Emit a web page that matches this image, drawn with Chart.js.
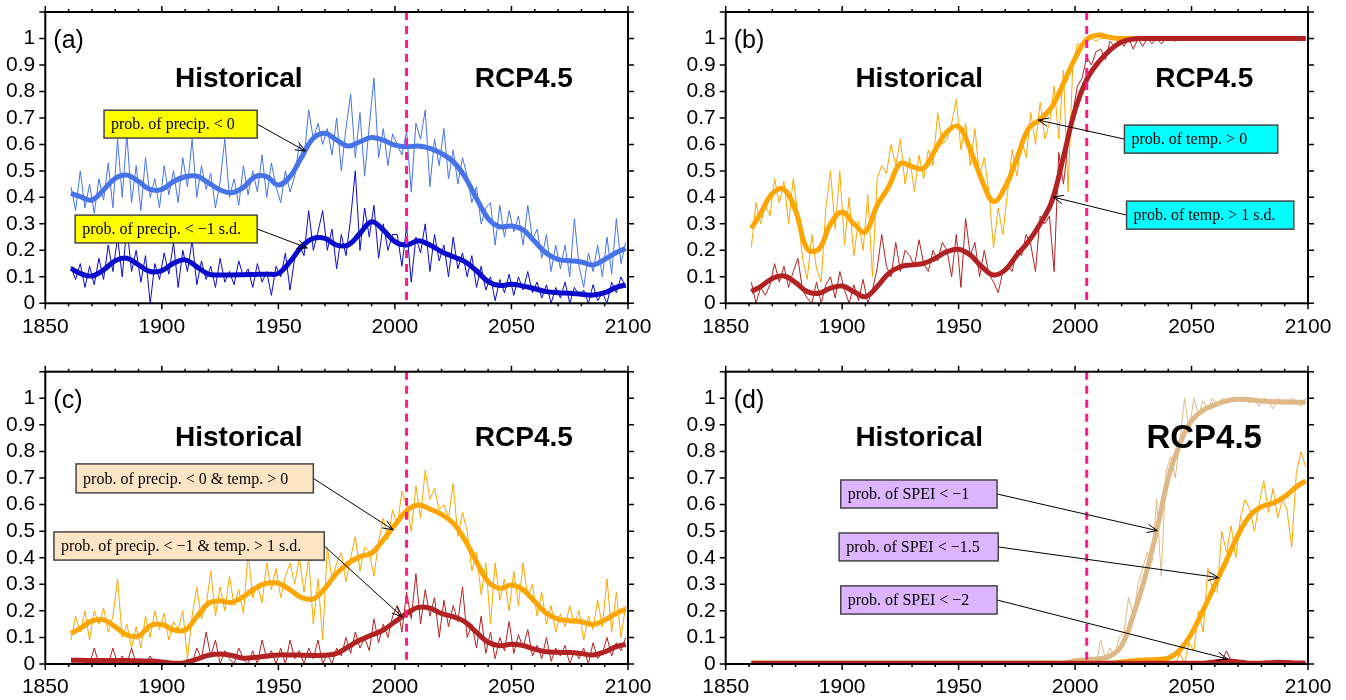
<!DOCTYPE html>
<html>
<head>
<meta charset="utf-8">
<script src="https://cdn.jsdelivr.net/npm/chart.js@4.4.1/dist/chart.umd.min.js"></script>
<style>
  body { margin: 0; background: #fff; }
  canvas { position: absolute; }
</style>
</head>
<body>
<canvas id="pa" width="673" height="350" style="left:0;top:0"></canvas>
<canvas id="pb" width="673" height="350" style="left:673px;top:0"></canvas>
<canvas id="pc" width="673" height="350" style="left:0;top:350px"></canvas>
<canvas id="pd" width="673" height="350" style="left:673px;top:350px"></canvas>
<script>
// years: annual-ish raw series (every 2nd year) and smoothed curves (every 5 years)
const yearsRaw = [];
for (let y = 1861; y <= 2099; y += 2) yearsRaw.push(y);
const yearsSmooth = [1861];
for (let y = 1865; y <= 2095; y += 5) yearsSmooth.push(y);
yearsSmooth.push(2099);

// (a) precipitation
const aRawPrecip0 = [
  0.44, 0.35, 0.50, 0.36, 0.45, 0.34, 0.47, 0.39, 0.53, 0.36,
  0.62, 0.40, 0.64, 0.38, 0.52, 0.35, 0.55, 0.40, 0.47, 0.36,
  0.52, 0.41, 0.50, 0.38, 0.55, 0.44, 0.62, 0.40, 0.52, 0.43,
  0.49, 0.36, 0.46, 0.62, 0.40, 0.47, 0.37, 0.52, 0.41, 0.50,
  0.42, 0.56, 0.40, 0.53, 0.44, 0.38, 0.50, 0.42, 0.48, 0.60,
  0.55, 0.73, 0.62, 0.68, 0.60, 0.66, 0.56, 0.70, 0.50, 0.66,
  0.79, 0.55, 0.72, 0.48, 0.67, 0.85, 0.55, 0.66, 0.52, 0.64,
  0.60, 0.56, 0.65, 0.42, 0.68, 0.62, 0.73, 0.44, 0.62, 0.52,
  0.66, 0.47, 0.58, 0.45, 0.55, 0.48, 0.38, 0.44, 0.30, 0.36,
  0.38, 0.22, 0.37, 0.25, 0.35, 0.27, 0.33, 0.22, 0.37, 0.24,
  0.28, 0.17, 0.26, 0.12, 0.22, 0.13, 0.22, 0.10, 0.32, 0.14,
  0.06, 0.19, 0.12, 0.22, 0.10, 0.25, 0.11, 0.32, 0.15, 0.23
];
const aRawPrecipSd = [
  0.14, 0.09, 0.15, 0.06, 0.14, 0.07, 0.17, 0.09, 0.22, 0.12,
  0.25, 0.10, 0.29, 0.12, 0.20, 0.08, 0.18, 0.00, 0.15, 0.09,
  0.19, 0.11, 0.23, 0.06, 0.20, 0.12, 0.24, 0.07, 0.16, 0.09,
  0.14, 0.06, 0.17, 0.08, 0.12, 0.07, 0.16, 0.10, 0.13, 0.06,
  0.15, 0.08, 0.12, 0.03, 0.14, 0.10, 0.19, 0.05, 0.17, 0.22,
  0.18, 0.35, 0.20, 0.27, 0.35, 0.20, 0.28, 0.13, 0.26, 0.18,
  0.32, 0.50, 0.20, 0.36, 0.25, 0.37, 0.17, 0.30, 0.20, 0.26,
  0.26, 0.14, 0.29, 0.08, 0.25, 0.19, 0.30, 0.12, 0.26, 0.16,
  0.22, 0.10, 0.25, 0.13, 0.19, 0.10, 0.18, 0.06, 0.14, 0.05,
  0.10, 0.01, 0.09, 0.04, 0.11, 0.03, 0.10, 0.05, 0.12, 0.04,
  0.08, 0.02, 0.07, 0.00, 0.06, 0.02, 0.08, 0.00, 0.06, 0.03,
  0.05, 0.00, 0.07, 0.01, 0.04, 0.00, 0.08, 0.04, 0.10, 0.06
];
const aSmoothPrecip0 = [
  0.415, 0.403, 0.39, 0.428, 0.472, 0.484, 0.46, 0.43, 0.43, 0.46,
  0.478, 0.48, 0.455, 0.428, 0.418, 0.438, 0.478, 0.478, 0.447, 0.478,
  0.553, 0.623, 0.642, 0.616, 0.594, 0.61, 0.626, 0.616, 0.597, 0.591,
  0.594, 0.585, 0.566, 0.535, 0.478, 0.396, 0.32, 0.289, 0.292, 0.277,
  0.233, 0.189, 0.166, 0.161, 0.156, 0.145, 0.166, 0.192, 0.207
];
const aSmoothPrecipSd = [
  0.132, 0.113, 0.103, 0.126, 0.161, 0.17, 0.145, 0.12, 0.123, 0.151,
  0.164, 0.138, 0.11, 0.107, 0.107, 0.108, 0.109, 0.11, 0.113, 0.157,
  0.214, 0.245, 0.245, 0.22, 0.22, 0.264, 0.308, 0.277, 0.233, 0.22,
  0.236, 0.22, 0.195, 0.176, 0.157, 0.123, 0.082, 0.067, 0.072, 0.065,
  0.055, 0.044, 0.04, 0.038, 0.034, 0.031, 0.04, 0.06, 0.069
];

// (b) temperature
const bRawTemp0 = [
  0.21, 0.38, 0.30, 0.37, 0.33, 0.47, 0.38, 0.46, 0.30, 0.47,
  0.34, 0.17, 0.09, 0.26, 0.13, 0.08, 0.36, 0.50, 0.28, 0.50,
  0.22, 0.40, 0.18, 0.31, 0.20, 0.41, 0.10, 0.47, 0.52, 0.49,
  0.60, 0.52, 0.62, 0.45, 0.55, 0.42, 0.56, 0.47, 0.58, 0.52,
  0.72, 0.60, 0.62, 0.68, 0.77, 0.58, 0.68, 0.52, 0.66, 0.48,
  0.55, 0.42, 0.21, 0.36, 0.26, 0.42, 0.58, 0.48, 0.62, 0.55,
  0.72, 0.60, 0.76, 0.62, 0.68, 0.82, 0.62, 0.88, 0.42, 0.90,
  0.98, 0.97, 1.00, 1.00, 0.99, 1.00, 1.00, 1.00, 1.00, 1.00,
  1.00, 1.00, 1.00, 1.00, 1.00, 1.00, 1.00, 1.00, 1.00, 1.00,
  1.00, 1.00, 1.00, 1.00, 1.00, 1.00, 1.00, 1.00, 1.00, 1.00,
  1.00, 1.00, 1.00, 1.00, 1.00, 1.00, 1.00, 1.00, 1.00, 1.00,
  1.00, 1.00, 1.00, 1.00, 1.00, 1.00, 1.00, 1.00, 1.00, 1.00
];
const bRawTempSd = [
  0.08, 0.00, 0.06, 0.03, 0.07, 0.15, 0.08, 0.14, 0.06, 0.12,
  0.17, 0.05, 0.02, 0.00, 0.08, 0.00, 0.07, 0.10, 0.02, 0.12,
  0.05, 0.00, 0.07, 0.01, 0.09, 0.00, 0.05, 0.13, 0.26, 0.14,
  0.10, 0.23, 0.12, 0.20, 0.18, 0.14, 0.24, 0.15, 0.12, 0.20,
  0.16, 0.23, 0.20, 0.10, 0.26, 0.06, 0.32, 0.18, 0.23, 0.10,
  0.20, 0.11, 0.08, 0.04, 0.12, 0.14, 0.12, 0.20, 0.18, 0.26,
  0.22, 0.12, 0.33, 0.30, 0.33, 0.12, 0.57, 0.45, 0.60, 0.72,
  0.82, 0.85, 0.93, 0.90, 0.95, 0.96, 0.92, 0.99, 0.97, 1.00,
  0.97, 1.00, 0.96, 1.00, 0.97, 1.00, 0.98, 1.00, 0.98, 1.00,
  1.00, 0.99, 1.00, 1.00, 1.00, 1.00, 1.00, 1.00, 1.00, 1.00,
  1.00, 1.00, 1.00, 1.00, 1.00, 1.00, 1.00, 1.00, 1.00, 1.00,
  1.00, 1.00, 1.00, 1.00, 1.00, 1.00, 1.00, 1.00, 1.00, 1.00
];
const bSmoothTemp0 = [
  0.283, 0.34, 0.415, 0.43, 0.35, 0.205, 0.205, 0.3, 0.345, 0.3,
  0.27, 0.37, 0.44, 0.528, 0.516, 0.51, 0.58, 0.648, 0.667, 0.58,
  0.465, 0.384, 0.44, 0.547, 0.66, 0.694, 0.742, 0.83, 0.925, 0.996,
  1.013, 1.004, 1.0, 1.0, 1.0, 1.0, 1.0, 1.0, 1.0, 1.0,
  1.0, 1.0, 1.0, 1.0, 1.0, 1.0, 1.0, 1.0, 1.0
];
const bSmoothTempSd = [
  0.044, 0.063, 0.094, 0.103, 0.078, 0.044, 0.038, 0.057, 0.065, 0.044,
  0.025, 0.063, 0.113, 0.138, 0.145, 0.151, 0.17, 0.195, 0.204, 0.182,
  0.138, 0.107, 0.126, 0.182, 0.233, 0.30, 0.385, 0.553, 0.73, 0.845,
  0.91, 0.956, 0.987, 0.998, 1.0, 1.0, 1.0, 1.0, 1.0, 1.0,
  1.0, 1.0, 1.0, 1.0, 1.0, 1.0, 1.0, 1.0, 1.0
];

// (c) compound precip & temp
const cRawBoth0 = [
  0.09, 0.18, 0.12, 0.20, 0.09, 0.20, 0.15, 0.21, 0.12, 0.18,
  0.32, 0.10, 0.15, 0.06, 0.14, 0.06, 0.18, 0.10, 0.20, 0.13,
  0.19, 0.09, 0.16, 0.13, 0.20, 0.02, 0.18, 0.29, 0.17, 0.22,
  0.35, 0.18, 0.29, 0.20, 0.33, 0.22, 0.28, 0.19, 0.42, 0.25,
  0.30, 0.23, 0.38, 0.28, 0.36, 0.25, 0.33, 0.38, 0.30, 0.40,
  0.27, 0.40, 0.15, 0.32, 0.09, 0.44, 0.32, 0.38, 0.42, 0.31,
  0.40, 0.48, 0.35, 0.44, 0.42, 0.33, 0.46, 0.55, 0.47, 0.58,
  0.52, 0.65, 0.60, 0.50, 0.67, 0.55, 0.73, 0.62, 0.66, 0.58,
  0.60, 0.55, 0.68, 0.48, 0.57, 0.50, 0.35, 0.42, 0.26, 0.38,
  0.15, 0.38, 0.24, 0.32, 0.20, 0.35, 0.22, 0.38, 0.25, 0.30,
  0.18, 0.27, 0.15, 0.22, 0.12, 0.19, 0.14, 0.22, 0.15, 0.20,
  0.09, 0.18, 0.13, 0.24, 0.14, 0.32, 0.12, 0.27, 0.10, 0.22
];
const cRawBothSd = [
  0.00, 0.02, 0.00, 0.01, 0.00, 0.06, 0.00, 0.02, 0.00, 0.06,
  0.00, 0.03, 0.00, 0.06, 0.00, 0.02, 0.00, 0.03, 0.00, 0.01,
  0.00, 0.00, 0.00, 0.00, 0.00, 0.02, 0.00, 0.06, 0.02, 0.12,
  0.03, 0.09, 0.00, 0.05, 0.02, 0.00, 0.06, 0.02, 0.00, 0.05,
  0.00, 0.09, 0.02, 0.05, 0.00, 0.06, 0.00, 0.09, 0.02, 0.05,
  0.00, 0.06, 0.02, 0.09, 0.00, 0.04, 0.00, 0.06, 0.03, 0.10,
  0.04, 0.12, 0.06, 0.10, 0.05, 0.17, 0.08, 0.15, 0.10, 0.18,
  0.22, 0.12, 0.27, 0.17, 0.34, 0.15, 0.28, 0.18, 0.25, 0.10,
  0.24, 0.14, 0.22, 0.16, 0.29, 0.10, 0.15, 0.06, 0.18, 0.04,
  0.12, 0.02, 0.10, 0.05, 0.16, 0.04, 0.11, 0.06, 0.13, 0.03,
  0.07, 0.02, 0.10, 0.01, 0.06, 0.03, 0.07, 0.00, 0.05, 0.02,
  0.06, 0.00, 0.08, 0.02, 0.04, 0.10, 0.03, 0.08, 0.05, 0.10
];
const cSmoothBoth0 = [
  0.115, 0.134, 0.162, 0.166, 0.14, 0.109, 0.105, 0.144, 0.149, 0.128,
  0.128, 0.178, 0.228, 0.237, 0.232, 0.253, 0.285, 0.304, 0.304, 0.279,
  0.25, 0.245, 0.285, 0.341, 0.379, 0.404, 0.417, 0.467, 0.523, 0.576,
  0.598, 0.583, 0.563, 0.53, 0.467, 0.385, 0.31, 0.285, 0.297, 0.279,
  0.235, 0.191, 0.169, 0.163, 0.159, 0.149, 0.166, 0.191, 0.207
];
const cSmoothBothSd = [
  0.014, 0.014, 0.013, 0.013, 0.013, 0.013, 0.012, 0.011, 0.008, 0.003,
  0.005, 0.018, 0.033, 0.038, 0.032, 0.022, 0.025, 0.03, 0.034, 0.034,
  0.033, 0.032, 0.033, 0.04, 0.065, 0.09, 0.109, 0.128, 0.159, 0.19,
  0.213, 0.21, 0.19, 0.178, 0.159, 0.119, 0.082, 0.069, 0.074, 0.069,
  0.056, 0.046, 0.044, 0.043, 0.039, 0.034, 0.046, 0.065, 0.074
];

// (d) SPEI
const dRawSpei1 = [
  0, 0, 0, 0, 0, 0, 0, 0, 0, 0,
  0, 0, 0, 0, 0, 0, 0, 0, 0, 0,
  0, 0, 0, 0, 0, 0, 0, 0, 0, 0,
  0, 0, 0, 0, 0, 0, 0, 0, 0, 0,
  0, 0, 0, 0, 0, 0, 0, 0, 0, 0,
  0, 0, 0, 0, 0, 0, 0, 0, 0, 0,
  0, 0, 0, 0, 0, 0, 0, 0, 0, 0,
  0.00, 0.01, 0.00, 0.02, 0.00, 0.09, 0.02, 0.06, 0.03, 0.10,
  0.12, 0.25, 0.18, 0.30, 0.36, 0.42, 0.38, 0.62, 0.33, 0.72,
  0.78, 0.70, 0.84, 1.00, 0.88, 1.00, 0.94, 0.99, 0.96, 1.00,
  0.97, 1.00, 0.98, 0.99, 1.00, 0.99, 1.00, 0.98, 1.00, 0.97,
  1.00, 0.99, 0.96, 1.00, 0.99, 0.98, 1.00, 0.99, 0.97, 1.00
];
const dRawSpei15 = [
  0, 0, 0, 0, 0, 0, 0, 0, 0, 0,
  0, 0, 0, 0, 0, 0, 0, 0, 0, 0,
  0, 0, 0, 0, 0, 0, 0, 0, 0, 0,
  0, 0, 0, 0, 0, 0, 0, 0, 0, 0,
  0, 0, 0, 0, 0, 0, 0, 0, 0, 0,
  0, 0, 0, 0, 0, 0, 0, 0, 0, 0,
  0, 0, 0, 0, 0, 0, 0, 0, 0, 0,
  0, 0, 0, 0, 0, 0, 0, 0, 0, 0,
  0, 0, 0, 0, 0, 0, 0, 0, 0, 0,
  0.01, 0.00, 0.04, 0.00, 0.08, 0.05, 0.20, 0.12, 0.36, 0.28,
  0.27, 0.50, 0.42, 0.52, 0.40, 0.55, 0.62, 0.58, 0.50, 0.60,
  0.69, 0.57, 0.66, 0.55, 0.62, 0.58, 0.44, 0.72, 0.80, 0.74
];
const dRawSpei2 = [
  0, 0, 0, 0, 0, 0, 0, 0, 0, 0,
  0, 0, 0, 0, 0, 0, 0, 0, 0, 0,
  0, 0, 0, 0, 0, 0, 0, 0, 0, 0,
  0, 0, 0, 0, 0, 0, 0, 0, 0, 0,
  0, 0, 0, 0, 0, 0, 0, 0, 0, 0,
  0, 0, 0, 0, 0, 0, 0, 0, 0, 0,
  0, 0, 0, 0, 0, 0, 0, 0, 0, 0,
  0, 0, 0, 0, 0, 0, 0, 0, 0, 0,
  0, 0, 0, 0, 0, 0, 0, 0, 0, 0,
  0, 0, 0, 0, 0, 0, 0, 0, 0, 0,
  0, 0.01, 0.05, 0.01, 0, 0, 0, 0, 0, 0,
  0, 0, 0, 0, 0, 0, 0, 0, 0, 0
];
const dSmoothSpei1 = [
  0.003, 0.003, 0.003, 0.003, 0.003, 0.003, 0.003, 0.003, 0.003, 0.003,
  0.003, 0.003, 0.003, 0.003, 0.003, 0.003, 0.003, 0.003, 0.003, 0.003,
  0.003, 0.003, 0.003, 0.003, 0.003, 0.003, 0.003, 0.003, 0.012, 0.016,
  0.019, 0.03, 0.07, 0.184, 0.325, 0.5, 0.70, 0.83, 0.915, 0.955,
  0.975, 0.99, 0.996, 0.994, 0.99, 0.987, 0.986, 0.985, 0.985
];
const dSmoothSpei15 = [
  0.003, 0.003, 0.003, 0.003, 0.003, 0.003, 0.003, 0.003, 0.003, 0.003,
  0.003, 0.003, 0.003, 0.003, 0.003, 0.003, 0.003, 0.003, 0.003, 0.003,
  0.003, 0.003, 0.003, 0.003, 0.003, 0.003, 0.003, 0.003, 0.003, 0.003,
  0.003, 0.003, 0.008, 0.012, 0.015, 0.017, 0.022, 0.053, 0.115, 0.203,
  0.297, 0.391, 0.486, 0.558, 0.592, 0.605, 0.63, 0.667, 0.689
];
const dSmoothSpei2 = [
  0.003, 0.003, 0.003, 0.003, 0.003, 0.003, 0.003, 0.003, 0.003, 0.003,
  0.003, 0.003, 0.003, 0.003, 0.003, 0.003, 0.003, 0.003, 0.003, 0.003,
  0.003, 0.003, 0.003, 0.003, 0.003, 0.003, 0.003, 0.003, 0.003, 0.003,
  0.003, 0.003, 0.003, 0.003, 0.003, 0.003, 0.003, 0.003, 0.003, 0.003,
  0.008, 0.012, 0.008, 0.003, 0.003, 0.006, 0.006, 0.004, 0.003
];

const SANS = '"Liberation Sans", Arial, Helvetica, sans-serif';
const SERIF = '"Liberation Serif", "Times New Roman", serif';
Chart.defaults.font.family = SANS;
Chart.defaults.font.size = 21;
Chart.defaults.color = '#000';

const LIGHTBLUE = '#4673e8', DARKBLUE = '#0a0acc', ORANGE = '#ffa500', RED = '#b22222', TAN = '#dfb887';

function xy(xs, ys) {
  return ys.map((v, i) => ({ x: xs[i], y: v }));
}
function smooth(vals, color) {
  return { data: xy(yearsSmooth, vals), borderColor: color, borderWidth: 5, pointRadius: 0, tension: 0.4, fill: false };
}
function raw(vals, color) {
  return { data: xy(yearsRaw, vals), borderColor: color, borderWidth: 1, pointRadius: 0, tension: 0, fill: false };
}

// frame, ticks, texts, boxes with arrows
const decor = {
  id: 'decor',
  afterDatasetsDraw(chart, args, o) {
    const { ctx, chartArea: a, scales: { x, y } } = chart;
    ctx.save();
    const xd = x.getPixelForValue(2005);
    ctx.strokeStyle = '#ff1a8c';
    ctx.lineWidth = 3;
    ctx.setLineDash([8, 6]);
    ctx.beginPath();
    ctx.moveTo(xd, a.top);
    ctx.lineTo(xd, a.bottom);
    ctx.stroke();
    ctx.setLineDash([]);

    ctx.strokeStyle = '#000';
    ctx.lineWidth = 2;
    ctx.strokeRect(a.left, a.top, a.right - a.left, a.bottom - a.top);
    ctx.lineWidth = 1.5;
    ctx.beginPath();
    for (let yr = 1850; yr <= 2100; yr += 10) {
      const px = x.getPixelForValue(yr);
      const len = yr % 50 === 0 ? 6 : 3;
      ctx.moveTo(px, a.bottom); ctx.lineTo(px, a.bottom + len);
      ctx.moveTo(px, a.top); ctx.lineTo(px, a.top - len);
    }
    for (let i = 0; i <= 11; i++) {
      const py = y.getPixelForValue(i / 10);
      ctx.moveTo(a.left - 6, py); ctx.lineTo(a.left, py);
      ctx.moveTo(a.right, py); ctx.lineTo(a.right + 6, py);
    }
    ctx.stroke();

    ctx.fillStyle = '#000';
    ctx.textBaseline = 'middle';
    ctx.textAlign = 'left';
    ctx.font = '25px ' + SANS;
    ctx.fillText(o.tag, a.left + 8, a.top + 29);
    ctx.textAlign = 'center';
    ctx.font = 'bold 28px ' + SANS;
    ctx.fillText('Historical', a.left + 193.5, a.top + 67);
    ctx.font = 'bold ' + o.rcpSize + 'px ' + SANS;
    ctx.fillText('RCP4.5', a.left + 478.5, a.top + 67);

    for (const n of o.notes) {
      const x0 = x.getPixelForValue(n.x0), x1 = x.getPixelForValue(n.x1);
      const y0 = y.getPixelForValue(n.yT), y1 = y.getPixelForValue(n.yB);
      const tx = x.getPixelForValue(n.tx), ty = y.getPixelForValue(n.ty);
      const sx = n.from === 'left' ? x0 : x1, sy = (y0 + y1) / 2;
      ctx.strokeStyle = '#000';
      ctx.lineWidth = 1;
      ctx.beginPath();
      ctx.moveTo(sx, sy);
      ctx.lineTo(tx, ty);
      const ang = Math.atan2(ty - sy, tx - sx);
      ctx.moveTo(tx - 11 * Math.cos(ang - 0.4), ty - 11 * Math.sin(ang - 0.4));
      ctx.lineTo(tx, ty);
      ctx.lineTo(tx - 11 * Math.cos(ang + 0.4), ty - 11 * Math.sin(ang + 0.4));
      ctx.stroke();

      ctx.fillStyle = o.boxFill;
      ctx.fillRect(x0, y0, x1 - x0, y1 - y0);
      ctx.strokeStyle = '#444';
      ctx.lineWidth = 1.5;
      ctx.strokeRect(x0, y0, x1 - x0, y1 - y0);
      ctx.fillStyle = '#000';
      ctx.textAlign = 'left';
      ctx.font = '16px ' + SERIF;
      ctx.fillText(n.text, x0 + 7, sy + 1);
    }
    ctx.restore();
  }
};

function makePanel(id, datasets, geo, deco) {
  new Chart(document.getElementById(id), {
    type: 'line',
    data: { datasets: datasets },
    options: {
      responsive: false,
      animation: false,
      layout: { padding: { left: 0, top: geo.top, right: geo.right, bottom: 0 } },
      plugins: { legend: { display: false }, tooltip: { enabled: false }, decor: deco },
      scales: {
        x: {
          type: 'linear', min: 1850, max: 2100,
          grid: { display: false, drawTicks: false }, border: { display: false },
          ticks: { stepSize: 50, padding: 11, autoSkip: false, maxRotation: 0, callback: (v) => String(v) },
          afterFit: (s) => { s.height = geo.xh; s.paddingLeft = 0; s.paddingRight = 0; }
        },
        y: {
          min: 0, max: 1.1,
          grid: { display: false, drawTicks: false }, border: { display: false },
          ticks: { stepSize: 0.1, padding: 10, autoSkip: false, callback: (v) => (v > 1.05 ? '' : String(Math.round(v * 10) / 10)) },
          afterFit: (s) => { s.width = geo.yw; s.paddingTop = 0; s.paddingBottom = 0; }
        }
      }
    },
    plugins: [decor]
  });
}

makePanel('pa', [
  smooth(aSmoothPrecip0, LIGHTBLUE),
  smooth(aSmoothPrecipSd, DARKBLUE),
  raw(aRawPrecip0, LIGHTBLUE),
  raw(aRawPrecipSd, DARKBLUE)
], { top: 12, right: 45, xh: 46.7, yw: 45.3 }, {
  tag: '(a)', rcpSize: 28, boxFill: '#ffff00',
  notes: [
    { text: 'prob. of precip. < 0', x0: 1875.2, x1: 1940.9, yT: 0.729, yB: 0.624, tx: 1961.6, ty: 0.575, from: 'right' },
    { text: 'prob. of precip. < \u22121 s.d.', x0: 1862.8, x1: 1940.9, yT: 0.333, yB: 0.228, tx: 1962.4, ty: 0.209, from: 'right' }
  ]
});

makePanel('pb', [
  smooth(bSmoothTempSd, RED),
  smooth(bSmoothTemp0, ORANGE),
  raw(bRawTempSd, RED),
  raw(bRawTemp0, ORANGE)
], { top: 12, right: 38, xh: 46.7, yw: 52.7 }, {
  tag: '(b)', rcpSize: 28, boxFill: '#00ffff',
  notes: [
    { text: 'prob. of temp. > 0', x0: 2021.2, x1: 2087.0, yT: 0.673, yB: 0.567, tx: 1984.2, ty: 0.692, from: 'left' },
    { text: 'prob. of temp. > 1 s.d.', x0: 2022.1, x1: 2093.9, yT: 0.386, yB: 0.28, tx: 1990.6, ty: 0.401, from: 'left' }
  ]
});

makePanel('pc', [
  smooth(cSmoothBoth0, ORANGE),
  smooth(cSmoothBothSd, RED),
  raw(cRawBoth0, ORANGE),
  raw(cRawBothSd, RED)
], { top: 21.7, right: 45, xh: 36, yw: 45.3 }, {
  tag: '(c)', rcpSize: 28, boxFill: '#fde4c4',
  notes: [
    { text: 'prob. of precip. < 0 & temp. > 0', x0: 1863.2, x1: 1965.0, yT: 0.753, yB: 0.644, tx: 1999.2, ty: 0.505, from: 'right' },
    { text: 'prob. of precip. < \u22121 & temp. > 1 s.d.', x0: 1853.7, x1: 1969.7, yT: 0.497, yB: 0.391, tx: 2003.1, ty: 0.178, from: 'right' }
  ]
});

makePanel('pd', [
  smooth(dSmoothSpei2, RED),
  smooth(dSmoothSpei15, ORANGE),
  smooth(dSmoothSpei1, TAN),
  raw(dRawSpei2, RED),
  raw(dRawSpei15, ORANGE),
  raw(dRawSpei1, TAN)
], { top: 21.7, right: 38, xh: 36, yw: 52.7 }, {
  tag: '(d)', rcpSize: 33, boxFill: '#dcb4ff',
  notes: [
    { text: 'prob. of SPEI < \u22121', x0: 1899.4, x1: 1966.5, yT: 0.6925, yB: 0.587, tx: 2035.3, ty: 0.502, from: 'right' },
    { text: 'prob. of SPEI < \u22121.5', x0: 1898.7, x1: 1967.0, yT: 0.493, yB: 0.388, tx: 2061.6, ty: 0.325, from: 'right' },
    { text: 'prob. of SPEI < \u22122', x0: 1899.4, x1: 1966.5, yT: 0.294, yB: 0.188, tx: 2065.4, ty: 0.019, from: 'right' }
  ]
});
</script>
</body>
</html>
